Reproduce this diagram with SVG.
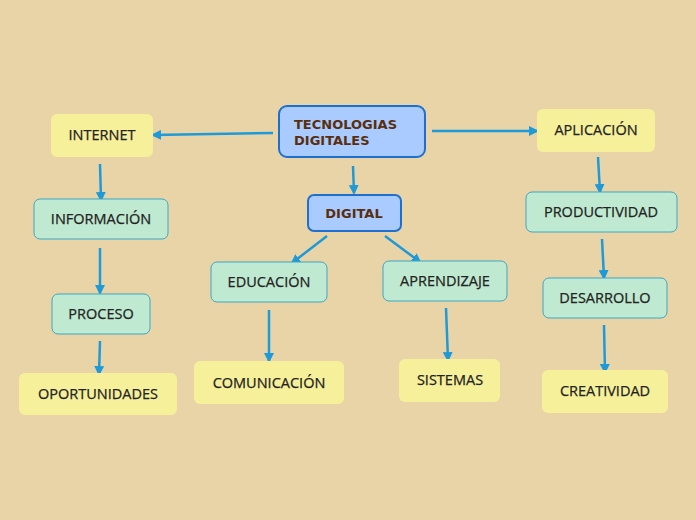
<svg xmlns="http://www.w3.org/2000/svg" width="696" height="520" viewBox="0 0 696 520">
<style>
.b{fill:#a9cbff;stroke:#1e6fd0;stroke-width:2}
.g{fill:#bfe9d0;stroke:#3aa7c4;stroke-width:1}
.y{fill:#f6f09a}
.tb{font-family:"DejaVu Sans",sans-serif;font-weight:bold;font-size:13px;fill:#5a2e0c}
.t{font-family:"Open Sans","Noto Sans",sans-serif;font-size:14.5px;font-weight:500;fill:#222;text-anchor:middle;stroke:#222;stroke-width:0.25}
.c line{stroke:#1e9ad8;stroke-width:2.5;marker-end:url(#a)}
</style>
<defs><marker id="a" markerWidth="10" markerHeight="10" refX="8" refY="5" orient="auto" markerUnits="userSpaceOnUse"><path d="M0,0L10,5L0,10z" fill="#1e9ad8"/></marker></defs>
<rect width="696" height="520" fill="#e9d4a8"/>
<g class="c">
<line x1="273" y1="133" x2="153" y2="135"/>
<line x1="432" y1="131" x2="537" y2="131"/>
<line x1="353" y1="166" x2="354" y2="193"/>
<line x1="100" y1="164" x2="101" y2="200"/>
<line x1="100" y1="248" x2="100" y2="293"/>
<line x1="100" y1="341" x2="99" y2="374"/>
<line x1="327" y1="236" x2="292" y2="263"/>
<line x1="385" y1="236" x2="420" y2="262"/>
<line x1="269" y1="310" x2="269" y2="361"/>
<line x1="446" y1="308" x2="448" y2="360"/>
<line x1="598" y1="157" x2="600" y2="192"/>
<line x1="602" y1="239" x2="604" y2="278"/>
<line x1="604" y1="325" x2="605" y2="372"/>
</g>
<g id="n0"><rect class="b" x="279" y="106" width="146" height="51" rx="8"/><text class="tb" x="294" y="129">TECNOLOGIAS</text><text class="tb" x="294" y="145">DIGITALES</text></g>
<g id="n1"><rect class="b" x="308" y="195" width="93" height="36" rx="6"/><text class="tb" x="354" y="218" text-anchor="middle">DIGITAL</text></g>
<g id="n2"><rect class="y" x="51" y="114" width="102" height="43" rx="6"/><text class="t" x="102" y="140">INTERNET</text></g>
<g id="n3"><rect class="g" x="34" y="199" width="134" height="40" rx="6"/><text class="t" x="101" y="224">INFORMACIÓN</text></g>
<g id="n4"><rect class="g" x="52" y="294" width="98" height="40" rx="6"/><text class="t" x="101" y="319">PROCESO</text></g>
<g id="n5"><rect class="y" x="19" y="373" width="158" height="42" rx="6"/><text class="t" x="98" y="399">OPORTUNIDADES</text></g>
<g id="n6"><rect class="g" x="211" y="262" width="116" height="40" rx="6"/><text class="t" x="269" y="287">EDUCACIÓN</text></g>
<g id="n7"><rect class="y" x="194" y="361" width="150" height="43" rx="6"/><text class="t" x="269" y="388">COMUNICACIÓN</text></g>
<g id="n8"><rect class="g" x="383" y="261" width="124" height="40" rx="6"/><text class="t" x="445" y="286">APRENDIZAJE</text></g>
<g id="n9"><rect class="y" x="399" y="359" width="101" height="43" rx="6"/><text class="t" x="450" y="385">SISTEMAS</text></g>
<g id="n10"><rect class="y" x="537" y="109" width="118" height="43" rx="6"/><text class="t" x="596" y="135">APLICACIÓN</text></g>
<g id="n11"><rect class="g" x="526" y="192" width="151" height="40" rx="6"/><text class="t" x="601" y="217">PRODUCTIVIDAD</text></g>
<g id="n12"><rect class="g" x="543" y="278" width="124" height="40" rx="6"/><text class="t" x="605" y="303">DESARROLLO</text></g>
<g id="n13"><rect class="y" x="542" y="370" width="126" height="43" rx="6"/><text class="t" x="605" y="396">CREATIVIDAD</text></g>
</svg>
